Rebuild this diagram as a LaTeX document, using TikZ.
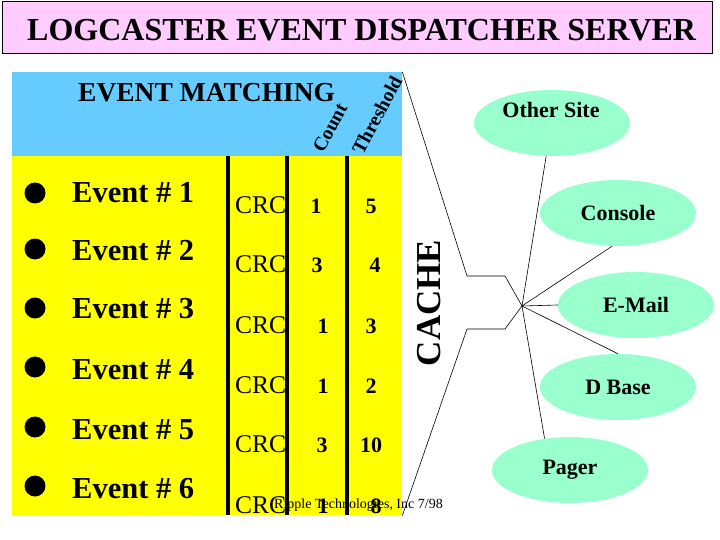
\documentclass[tikz,border=0pt]{standalone}
\usepackage{fontspec}
\setmainfont{Liberation Serif}
\usepackage{tikz}
\usetikzlibrary{shapes.geometric, positioning}
\definecolor{titlepink}{HTML}{FFCCFF}
\definecolor{skyblue}{HTML}{66CCFF}
\definecolor{eventyellow}{HTML}{FFFF00}
\definecolor{mint}{HTML}{99FFCC}

\begin{document}
\begin{tikzpicture}[
    x=1pt, y=-1pt,
    every node/.style={text=black},
    titlebox/.style={
        draw=black,
        fill=titlepink,
        line width=0.8pt,
        minimum width=710pt,
        minimum height=52pt,
        inner sep=0pt
    },
    titletext/.style={
        font=\fontsize{32}{36}\selectfont\bfseries,
        inner sep=0pt
    },
    panel/.style={
        inner sep=0pt,
        minimum width=390pt
    },
    heading/.style={
        font=\fontsize{27.5}{30}\selectfont\bfseries,
        inner sep=0pt
    },
    colhead/.style={
        font=\fontsize{19.5}{21}\selectfont\bfseries,
        rotate=62,
        inner sep=0pt
    },
    bullet/.style={
        circle,
        fill=black,
        minimum size=21pt,
        inner sep=0pt
    },
    eventlabel/.style={
        font=\fontsize{30.5}{33}\selectfont\bfseries,
        anchor=base west,
        inner sep=0pt
    },
    crclabel/.style={
        font=\fontsize{25.5}{27}\selectfont,
        anchor=base west,
        inner sep=0pt
    },
    numlabel/.style={
        font=\fontsize{22}{24}\selectfont\bfseries,
        anchor=base,
        inner sep=0pt
    },
    divider/.style={
        line width=4.7pt,
        draw=black
    },
    cachelabel/.style={
        font=\fontsize{35}{38}\selectfont\bfseries,
        rotate=90,
        inner sep=0pt
    },
    target/.style={
        ellipse,
        fill=mint,
        minimum width=156pt,
        minimum height=66pt,
        inner sep=0pt,
        font=\fontsize{22}{24}\selectfont\bfseries
    },
    targettext/.style={
        font=\fontsize{22}{24}\selectfont\bfseries,
        inner sep=0pt
    },
    wire/.style={
        draw=black,
        line width=0.6pt
    },
    note/.style={
        font=\fontsize{14}{16}\selectfont,
        anchor=base west,
        inner sep=0pt
    }
]

\useasboundingbox (0,0) rectangle (720,540);

% Title
\node[titlebox, anchor=north west] (banner) at (2,1) {};
\node[titletext, anchor=base west] (title) at (27,41) {LOGCASTER EVENT DISPATCHER SERVER};

% Panels
\node[panel, fill=skyblue, minimum height=84pt, anchor=north west] (match) at (12,72) {};
\node[panel, fill=eventyellow, minimum height=359pt, anchor=north west] (events) at (12,156) {};

\node[heading, anchor=base west] (matching) at (78,102) {EVENT MATCHING};
\node[colhead] (count) at (330,128) {Count};
\node[colhead] (thresh) at (377,115) {Threshold};

% Events
\node[bullet] (b1) at (35,193) {};
\node[eventlabel] (ev1) at (72,203) {Event \# 1};
\node[bullet] (b2) at (35,249) {};
\node[eventlabel] (ev2) at (72,260) {Event \# 2};
\node[bullet] (b3) at (35,308) {};
\node[eventlabel] (ev3) at (72,318) {Event \# 3};
\node[bullet] (b4) at (35,367) {};
\node[eventlabel] (ev4) at (72,379) {Event \# 4};
\node[bullet] (b5) at (35,427) {};
\node[eventlabel] (ev5) at (72,439) {Event \# 5};
\node[bullet] (b6) at (35,486) {};
\node[eventlabel] (ev6) at (72,498) {Event \# 6};

% CRC, count and threshold values
\node[crclabel] (crc1) at (235,214) {CRC};
\node[numlabel] (cnt1) at (316,214) {1};
\node[numlabel] (thr1) at (371,214) {5};

\node[crclabel] (crc2) at (235,272) {CRC};
\node[numlabel] (cnt2) at (317,272) {3};
\node[numlabel] (thr2) at (375,272) {4};

\node[crclabel] (crc3) at (235,333) {CRC};
\node[numlabel] (cnt3) at (323,333) {1};
\node[numlabel] (thr3) at (371,333) {3};

\node[crclabel] (crc4) at (235,393) {CRC};
\node[numlabel] (cnt4) at (323,393) {1};
\node[numlabel] (thr4) at (371,393) {2};

\node[crclabel] (crc5) at (235,452) {CRC};
\node[numlabel] (cnt5) at (322,452) {3};
\node[numlabel] (thr5) at (371,452) {10};

\node[crclabel] (crc6) at (235,513) {CRC};
\node[numlabel] (cnt6) at (323,513) {1};
\node[numlabel] (thr6) at (376,513) {8};

% Column rules
\draw[divider] (228,156) -- (228,515);
\draw[divider] (287,156) -- (287,515);
\draw[divider] (347,156) -- (347,515);

\node[note] (credit) at (274,508) {Ripple Technologies, Inc 7/98};

% Cache
\node[cachelabel] (cache) at (429,303) {CACHE};
\coordinate (hub) at (522,306);
\draw[wire] (match.north east) -- (467,276) -- (505,276) -- (hub)
    -- (505,329) -- (467,329) -- (events.south east);

% Targets
\node[target] (other) at (552,123) {};
\node[targettext] (othertext) at (551,110) {Other Site};
\node[target] (console) at (618,213) {Console};
\node[target] (email) at (636,305) {E-Mail};
\node[target] (dbase) at (618,387) {D Base};
\node[target] (pager) at (570,470) {Pager};

\draw[wire] (hub) -- (other.260);
\draw[wire] (hub) -- (console.260);
\draw[wire] (hub) -- (email.west);
\draw[wire] (hub) -- (dbase.north);
\draw[wire] (hub) -- (pager.129);

\end{tikzpicture}
\end{document}
